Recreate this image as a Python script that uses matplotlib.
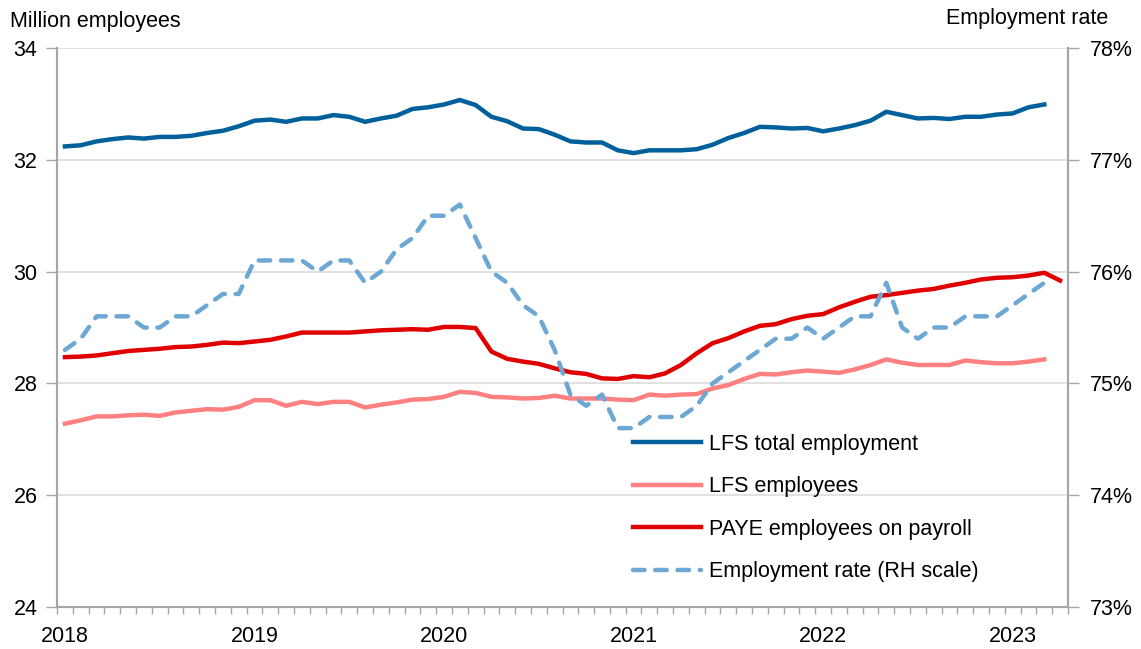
import numpy as np
import matplotlib
matplotlib.use('Agg')
import matplotlib.pyplot as plt

plt.rcParams['font.family'] = ['Liberation Sans', 'DejaVu Sans']

# monthly, Jan 2018 .. Apr 2023
months = np.arange(64)
year_labels = ['2018', '2019', '2020', '2021', '2022', '2023']

lfs_total = [32.24, 32.26, 32.33, 32.37, 32.40, 32.38, 32.41, 32.41, 32.43, 32.48,
             32.52, 32.60, 32.70, 32.72, 32.68, 32.74, 32.74, 32.80, 32.77, 32.68,
             32.74, 32.79, 32.91, 32.94, 32.99, 33.07, 32.98, 32.77, 32.69, 32.56,
             32.55, 32.45, 32.33, 32.31, 32.31, 32.17, 32.12, 32.17, 32.17, 32.17,
             32.19, 32.27, 32.39, 32.48, 32.59, 32.58, 32.56, 32.57, 32.51, 32.56,
             32.62, 32.70, 32.86, 32.80, 32.74, 32.75, 32.73, 32.77, 32.77, 32.81,
             32.83, 32.94, 32.99]

lfs_employees = [27.28, 27.34, 27.41, 27.41, 27.43, 27.44, 27.42, 27.48, 27.51, 27.54,
                 27.53, 27.58, 27.70, 27.70, 27.60, 27.67, 27.63, 27.67, 27.67, 27.57,
                 27.62, 27.66, 27.71, 27.72, 27.76, 27.85, 27.83, 27.76, 27.75, 27.73,
                 27.74, 27.78, 27.73, 27.73, 27.73, 27.71, 27.70, 27.80, 27.78, 27.80,
                 27.81, 27.91, 27.97, 28.08, 28.17, 28.16, 28.20, 28.23, 28.21, 28.19,
                 28.25, 28.33, 28.43, 28.37, 28.33, 28.33, 28.33, 28.41, 28.38, 28.36,
                 28.36, 28.39, 28.43]

paye = [28.47, 28.48, 28.50, 28.54, 28.58, 28.60, 28.62, 28.65, 28.66, 28.69,
        28.73, 28.72, 28.75, 28.78, 28.84, 28.91, 28.91, 28.91, 28.91, 28.93,
        28.95, 28.96, 28.97, 28.96, 29.01, 29.01, 28.99, 28.57, 28.44, 28.39,
        28.35, 28.27, 28.20, 28.17, 28.09, 28.08, 28.13, 28.11, 28.18, 28.33,
        28.54, 28.72, 28.81, 28.93, 29.03, 29.06, 29.15, 29.21, 29.24, 29.36,
        29.46, 29.55, 29.58, 29.62, 29.66, 29.69, 29.75, 29.80, 29.86, 29.89,
        29.90, 29.93, 29.98, 29.84]

emp_rate = [75.3, 75.4, 75.6, 75.6, 75.6, 75.5, 75.5, 75.6, 75.6, 75.7,
            75.8, 75.8, 76.1, 76.1, 76.1, 76.1, 76.0, 76.1, 76.1, 75.9,
            76.0, 76.2, 76.3, 76.5, 76.5, 76.6, 76.3, 76.0, 75.9, 75.7,
            75.6, 75.3, 74.9, 74.8, 74.9, 74.6, 74.6, 74.7, 74.7, 74.7,
            74.8, 75.0, 75.1, 75.2, 75.3, 75.4, 75.4, 75.5, 75.4, 75.5,
            75.6, 75.6, 75.9, 75.5, 75.4, 75.5, 75.5, 75.6, 75.6, 75.6,
            75.7, 75.8, 75.9]

grey = '#A6A6A6'
fs = 15.5

fig = plt.figure(figsize=(11.41, 6.49), dpi=100)
ax = fig.add_axes([0.050, 0.0647, 0.886, 0.8613])
ax2 = ax.twinx()

l1, = ax.plot(months[:len(lfs_total)], lfs_total, color='#00609C', lw=3.2, label='LFS total employment')
l2, = ax.plot(months[:len(lfs_employees)], lfs_employees, color='#FF8080', lw=3.2, label='LFS employees')
l3, = ax.plot(months[:len(paye)], paye, color='#E00000', lw=3.2, label='PAYE employees on payroll')
l4, = ax2.plot(months[:len(emp_rate)], emp_rate, color='#6DA7D3', lw=3.2, ls=(0, (2.6, 2.4)),
               dash_capstyle='round', label='Employment rate (RH scale)')

ax.set_xlim(-0.5, 63.5)
ax.set_ylim(24, 34)
ax2.set_ylim(73, 78)
ax.set_yticks(range(24, 35, 2))
ax2.set_yticks(range(73, 79))
ax2.set_yticklabels([f'{v}%' for v in range(73, 79)])

ax.grid(axis='y', color='#DCDCDC', lw=1.2)
ax.set_axisbelow(True)

# month boundary ticks, year labels at the January category
ax.set_xticks(np.arange(-0.5, 64, 1))
ax.set_xticklabels([])
ax.set_xticks(np.arange(0, 64, 12), minor=True)
ax.set_xticklabels(year_labels, minor=True)
ax.tick_params(axis='x', which='major', length=5, width=1, color=grey, direction='out')
ax.tick_params(axis='x', which='minor', length=0, pad=14, labelsize=fs)
ax.tick_params(axis='y', length=8, width=1, color=grey, labelsize=fs, pad=6)
ax2.tick_params(axis='y', length=8, width=1, color=grey, labelsize=fs, pad=8)

for a in (ax, ax2):
    a.spines['top'].set_visible(False)
    for s in ('left', 'right', 'bottom'):
        a.spines[s].set_color(grey)
        a.spines[s].set_linewidth(1.5)

fig.text(0.009, 0.967, 'Million employees', fontsize=fs, ha='left', va='center')
fig.text(0.971, 0.972, 'Employment rate', fontsize=fs, ha='right', va='center')

ax2.legend(handles=[l1, l2, l3, l4], loc='upper left', bbox_to_anchor=(0.551, 0.345),
           frameon=False, fontsize=fs, handlelength=3.15, labelspacing=1.0, handletextpad=0.37)

fig.savefig('out.png', dpi=100)
